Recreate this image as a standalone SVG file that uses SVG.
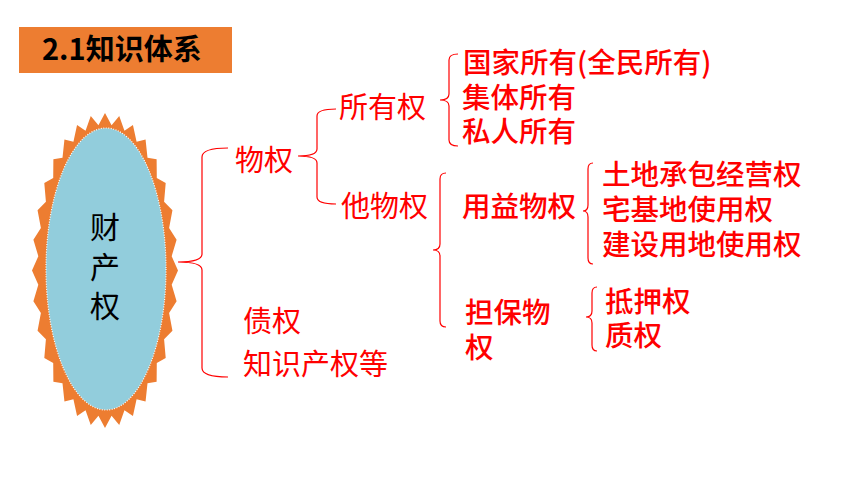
<svg xmlns="http://www.w3.org/2000/svg" width="860" height="484" viewBox="0 0 860 484">
<style>
.t{font-family:"Noto Sans CJK SC","Noto Sans",sans-serif;fill:#FF0000;font-size:28.5px;font-weight:500}
.m{font-family:"Noto Sans CJK SC","Noto Sans",sans-serif;fill:#FF0000;font-size:29px}
.k{font-family:"Noto Sans CJK SC","Noto Sans",sans-serif;font-size:30px;fill:#000}
.b{fill:none;stroke:#FF0000;stroke-width:1.2}
</style>
<rect width="860" height="484" fill="#FFFFFF"/>
<g id="title">
<rect x="19" y="27" width="213" height="46" fill="#ED7D31"/>
<text x="42" y="60" style="font-family:'Noto Sans CJK SC','Noto Sans',sans-serif;font-size:29px;font-weight:bold;fill:#000">2.1知识体系</text>
</g>
<g id="root">
<polygon fill="#ED7D31" points="105,113 111.57,125.2 119.24,116.03 124.45,130.79 132.94,124.99 136.58,141.74 145.56,139.54 147.5,157.64 156.62,159.13 156.79,177.88 165.7,183 164.09,201.68 172.44,210.23 169.11,228.12 176.6,239.77 171.68,256.19 178,270.5 171.68,284.81 176.6,301.23 169.11,312.88 172.44,330.77 164.09,339.32 165.7,358 156.79,363.12 156.62,381.87 147.5,383.36 145.56,401.46 136.58,399.26 132.94,416.01 124.45,410.21 119.24,424.97 111.57,415.8 105,428 98.43,415.8 90.76,424.97 85.55,410.21 77.06,416.01 73.42,399.26 64.44,401.46 62.5,383.36 53.38,381.87 53.21,363.12 44.3,358 45.91,339.32 37.56,330.77 40.89,312.88 33.4,301.23 38.32,284.81 32,270.5 38.32,256.19 33.4,239.77 40.89,228.12 37.56,210.23 45.91,201.68 44.3,183 53.21,177.88 53.38,159.13 62.5,157.64 64.44,139.54 73.42,141.74 77.06,124.99 85.55,130.79 90.76,116.03 98.43,125.2"/>
<ellipse cx="106" cy="269" rx="60" ry="141" fill="#92CDDC" stroke="#FFFFFF" stroke-width="1.2" stroke-dasharray="1 1.5"/>
<text class="k" x="105" y="238" text-anchor="middle">财</text>
<text class="k" x="105" y="278" text-anchor="middle">产</text>
<text class="k" x="105" y="317" text-anchor="middle">权</text>
</g>
<g id="connectors">
<path class="b" d="M228,148 Q202,148 202,157 L202,254 Q202,262 178,262 Q202,262 202,270 L202,368 Q202,377 228,377"/>
<path class="b" d="M336,109 Q317,109 317,116 L317,149 Q317,156 298,156 Q317,156 317,163 L317,197 Q317,204 336,204"/>
<path class="b" d="M458,54 Q449,54 449,60 L449,94 Q449,100 440,100 Q449,100 449,106 L449,140 Q449,146 458,146"/>
<path class="b" d="M446,173 Q440,173 440,179 L440,244 Q440,250 433,250 Q440,250 440,256 L440,321 Q440,327 446,327"/>
<path class="b" d="M593,163 Q588,163 588,169 L588,205 Q588,211 583,211 Q588,211 588,217 L588,258 Q588,264 593,264"/>
<path class="b" d="M597,287 Q592,287 592,293 L592,311 Q592,317 586,317 Q592,317 592,323 L592,345 Q592,351 597,351"/>
</g>
<g id="wuquan"><text class="m" x="235" y="171">物权</text></g>
<g id="zhaiquan"><text class="m" x="243" y="332">债权</text></g>
<g id="zhishi"><text class="m" x="243" y="375">知识产权等</text></g>
<g id="suoyouquan"><text class="m" x="339" y="118">所有权</text></g>
<g id="tawuquan"><text class="m" x="341" y="217">他物权</text></g>
<g id="guojia"><text class="t" x="463" y="73">国家所有(全民所有)</text></g>
<g id="jiti"><text class="t" x="462" y="108">集体所有</text></g>
<g id="siren"><text class="t" x="462" y="142">私人所有</text></g>
<g id="yongyi"><text class="t" x="462" y="217">用益物权</text></g>
<g id="danbao"><text class="t" x="465" y="323">担保物</text><text class="t" x="465" y="358">权</text></g>
<g id="tudi"><text class="t" x="602" y="185">土地承包经营权</text></g>
<g id="zhaiji"><text class="t" x="602" y="220">宅基地使用权</text></g>
<g id="jianshe"><text class="t" x="602" y="255">建设用地使用权</text></g>
<g id="diya"><text class="t" x="605" y="312">抵押权</text></g>
<g id="zhiquan"><text class="t" x="605" y="346">质权</text></g>
</svg>
